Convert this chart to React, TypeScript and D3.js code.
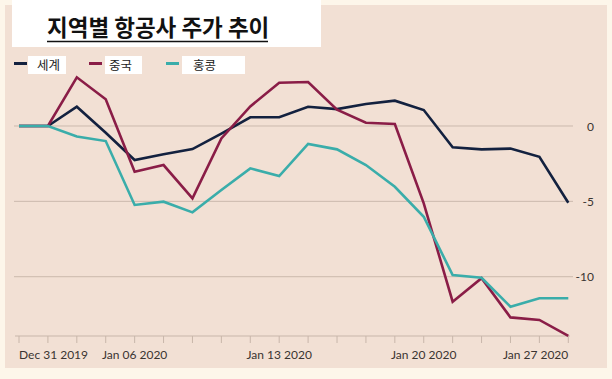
import React from "react";
import * as d3 from "d3";

const dates = [
  "Dec 30", "Dec 31", "Jan 02", "Jan 03", "Jan 06", "Jan 07", "Jan 08", "Jan 09", "Jan 10",
  "Jan 13", "Jan 14", "Jan 15", "Jan 16", "Jan 17", "Jan 20", "Jan 21", "Jan 22", "Jan 23", "Jan 24", "Jan 27",
];
const world = [0, 0, 1.28, -0.45, -2.26, -1.88, -1.53, -0.5, 0.58, 0.58, 1.28, 1.12, 1.46, 1.68, 1.06, -1.41, -1.55, -1.5, -2.04, -5.09];
const china = [0, 0, 3.23, 1.77, -3.03, -2.59, -4.8, -0.82, 1.3, 2.87, 2.92, 1.08, 0.22, 0.13, -5.13, -11.66, -10.1, -12.7, -12.87, -13.93];
const hongkong = [0, 0, -0.7, -1.0, -5.24, -5.02, -5.73, -4.25, -2.81, -3.32, -1.19, -1.55, -2.59, -4.03, -6.02, -9.89, -10.07, -11.99, -11.43, -11.43];
const yTicks = [0, -5, -10];
const xLabels = [
  { i: 1, text: "Dec 31 2019" },
  { i: 4, text: "Jan 06 2020" },
  { i: 9, text: "Jan 13 2020" },
  { i: 14, text: "Jan 20 2020" },
  { i: 19, text: "Jan 27 2020" },
];
const seriesNames = ["세계", "중국", "홍콩"];
const title = "지역별 항공사 주가 추이";

const colors = ["#13213f", "#8a1d47", "#3aadaa"];
const KR = "'Noto Sans CJK KR', 'Noto Sans', sans-serif";
const LAT = "Lato, 'Open Sans', sans-serif";

export default function App() {
  const W = 612, H = 379;
  const x = d3.scalePoint<number>().domain(d3.range(dates.length)).range([19, 568.3]);
  const y = d3.scaleLinear().domain([-14, 0]).range([337, 126]);
  const line = d3.line<number>().x((_, i) => x(i)!).y((d) => y(d));
  const series = [world, china, hongkong];
  const axisY = 336;
  const legend = [
    { sx: 14, bx: 28, bw: 38, tx: 37 },
    { sx: 89, bx: 105, bw: 37, tx: 109 },
    { sx: 166, bx: 182, bw: 63, tx: 193 },
  ];
  return (
    <svg width={W} height={H} style={{ position: "absolute", left: 0, top: 0 }}>
      <rect x={0} y={0} width={W} height={H} fill="#fdf6ea" />
      <rect x={5} y={5} width={602} height={363} fill="#f2e0d4" />
      <rect x={12} y={0} width={309} height={47} fill="#ffffff" />
      <text x={47} y={36} fontFamily={KR} fontWeight={700} fontSize={22.5} fill="#111">{title}</text>
      <line x1={47} x2={268} y1={41.5} y2={41.5} stroke="#111" strokeWidth={1.5} />
      {legend.map((l, k) => (
        <g key={k}>
          <line x1={l.sx} x2={l.sx + 13} y1={63.5} y2={63.5} stroke={colors[k]} strokeWidth={3} />
          <rect x={l.bx} y={56} width={l.bw} height={18} fill="#ffffff" />
          <text x={l.tx} y={69.5} fontFamily={KR} fontSize={12.5} fill="#222">{seriesNames[k]}</text>
        </g>
      ))}
      {yTicks.map((t) => (
        <g key={t}>
          <line x1={14} x2={573} y1={y(t)} y2={y(t)} stroke="#cbb9ad" strokeWidth={1} />
          <text x={594} y={y(t) + 4.5} textAnchor="end" fontFamily={LAT} fontSize={12} fill="#3a3431">{t}</text>
        </g>
      ))}
      <line x1={15} x2={570} y1={axisY} y2={axisY} stroke="#c8b6aa" strokeWidth={1} />
      {dates.map((_, i) => (
        <line key={i} x1={x(i)} x2={x(i)} y1={axisY} y2={axisY + 7} stroke="#c8b6aa" strokeWidth={1} />
      ))}
      {xLabels.map((l, k) => {
        const anchor = k === 0 ? "start" : k === xLabels.length - 1 ? "end" : "middle";
        const xx = k === 0 ? x(0)! : x(l.i)!;
        return (
          <text key={k} x={xx} y={359} textAnchor={anchor} fontFamily={LAT} fontSize={12} fill="#3a3431">{l.text}</text>
        );
      })}
      {series.map((s, k) => (
        <path key={k} d={line(s)!} fill="none" stroke={colors[k]} strokeWidth={2.6} strokeLinejoin="miter" />
      ))}
    </svg>
  );
}
